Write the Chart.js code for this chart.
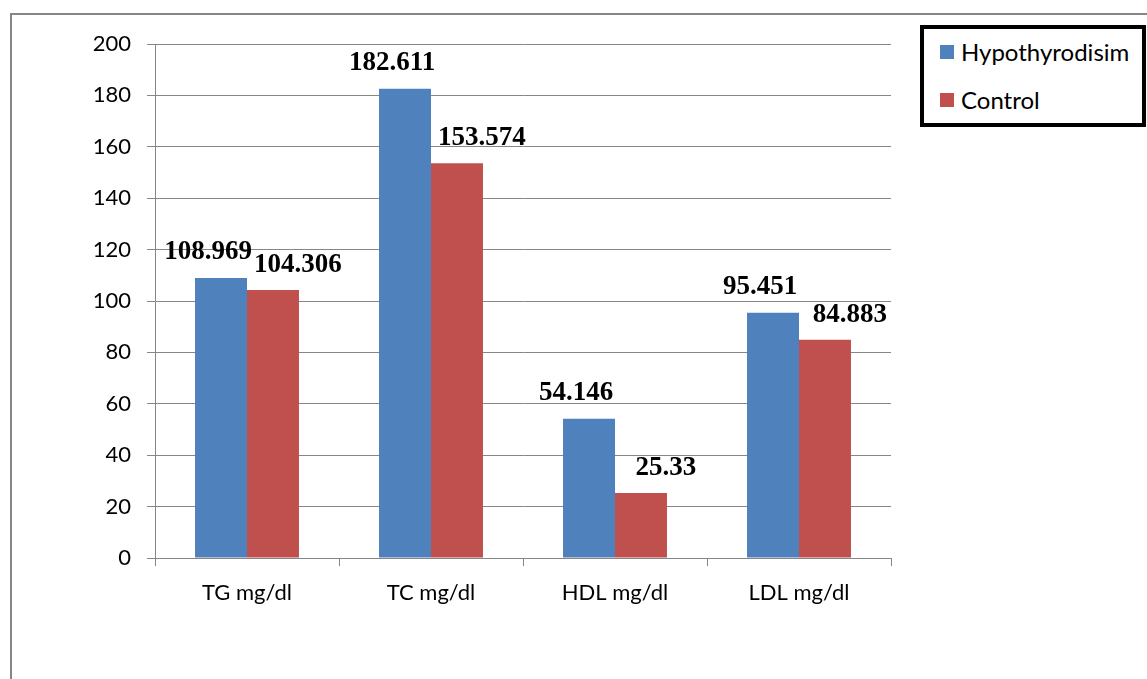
<!DOCTYPE html>
<html>
<head>
<meta charset="utf-8">
<script src="https://cdn.jsdelivr.net/npm/chart.js@4"></script>
<style>
  html, body { margin: 0; padding: 0; background: #fff; overflow: hidden; }
  #wrap { position: relative; width: 1147px; height: 679px; }
  #frame {
    position: absolute; left: 10px; top: 13px; width: 1300px; height: 800px;
    border: 2px solid #868686; box-sizing: border-box;
  }
  #myChart { position: absolute; left: 0; top: 0; }
  #legend {
    position: absolute; left: 920px; top: 25px; width: 226px; height: 102px;
    border: 4px solid #000; box-sizing: border-box; background: #fff;
    font-family: Lato, "Open Sans", sans-serif; font-size: 24px; color: #000;
  }
  .item { position: absolute; left: 16px; display: flex; align-items: center; }
  .swatch { width: 14px; height: 14px; margin-right: 7px; }
</style>
</head>
<body>
<div id="wrap">
  <div id="frame"></div>
  <canvas id="myChart" width="1147" height="679"></canvas>
  <div id="legend"></div>
</div>
<script>
const categories = ["TG mg/dl", "TC mg/dl", "HDL mg/dl", "LDL mg/dl"];
const hypothyroidism = [108.969, 182.611, 54.146, 95.451];
const control = [104.306, 153.574, 25.33, 84.883];
const valueLabels = [
  ["108.969", "182.611", "54.146", "95.451"],
  ["104.306", "153.574", "25.33", "84.883"],
];
const seriesNames = ["Hypothyrodisim", "Control"];
const seriesColors = ["#4F81BD", "#C0504D"];

const gridColor = "#868686";
const tickFont = { family: "Lato", size: 22 };

// value labels above the bars, nudged sideways per series
const barValues = {
  id: "barValues",
  afterDatasetsDraw(chart, args, opts) {
    const ctx = chart.ctx;
    ctx.save();
    ctx.font = "bold 27px 'Liberation Serif', 'Times New Roman', serif";
    ctx.fillStyle = "#000";
    ctx.textAlign = "center";
    ctx.textBaseline = "middle";
    chart.data.datasets.forEach((ds, i) => {
      const meta = chart.getDatasetMeta(i);
      meta.data.forEach((bar, j) => {
        ctx.fillText(valueLabels[i][j], bar.x + opts.dx[i], bar.y + opts.dy[i]);
      });
    });
    ctx.restore();
  },
};

const ctx = document.getElementById("myChart").getContext("2d");
const chart = new Chart(ctx, {
  type: "bar",
  data: {
    labels: categories,
    datasets: [
      {
        label: seriesNames[0],
        data: hypothyroidism,
        backgroundColor: seriesColors[0],
      },
      {
        label: seriesNames[1],
        data: control,
        backgroundColor: seriesColors[1],
      },
    ],
  },
  options: {
    responsive: false,
    animation: false,
    layout: { padding: { left: 0, right: 256, top: 44, bottom: 0 } },
    datasets: {
      bar: { categoryPercentage: 0.565, barPercentage: 1.0 },
    },
    plugins: {
      legend: { display: false },
      tooltip: { enabled: false },
      barValues: { dx: [-13, 25], dy: [-26, -25] },
    },
    scales: {
      x: {
        afterFit(scale) { scale.height = 121; },
        grid: {
          offset: true,
          drawOnChartArea: false,
          color: gridColor,
          tickLength: 8,
        },
        border: { color: gridColor },
        ticks: { color: "#000", font: tickFont, padding: 14 },
      },
      y: {
        min: 0,
        max: 200,
        afterFit(scale) { scale.width = 155; },
        ticks: { stepSize: 20, color: "#000", font: tickFont, padding: 16 },
        grid: { color: gridColor, tickLength: 8 },
        border: { color: gridColor },
      },
    },
  },
  plugins: [barValues],
});

// legend box built from the datasets
const legend = document.getElementById("legend");
chart.data.datasets.forEach((ds, i) => {
  const item = document.createElement("div");
  item.className = "item";
  item.style.top = (i === 0 ? 8 : 56) + "px";
  item.innerHTML =
    '<span class="swatch" style="background:' + ds.backgroundColor + '"></span>' +
    "<span>" + ds.label + "</span>";
  legend.appendChild(item);
});
</script>
</body>
</html>
